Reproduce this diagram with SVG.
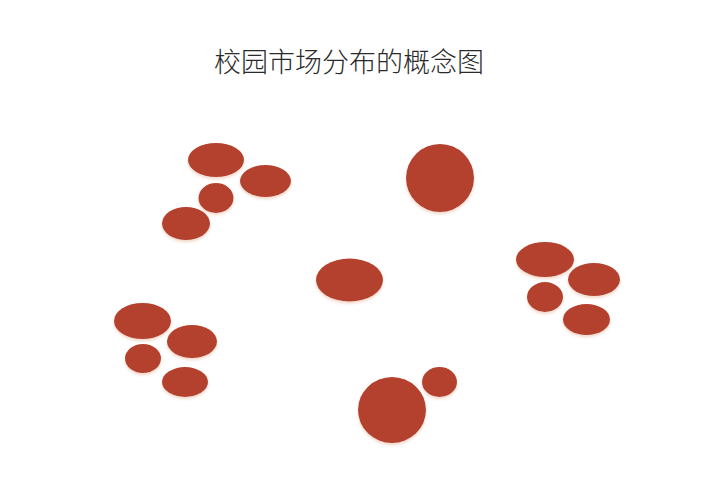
<svg xmlns="http://www.w3.org/2000/svg" width="720" height="494" viewBox="0 0 720 494">
<defs>
<filter id="sh" x="-20%" y="-20%" width="140%" height="150%">
<feGaussianBlur in="SourceAlpha" stdDeviation="1.5"/>
<feOffset dx="0" dy="1.5" result="b"/>
<feFlood flood-color="#e6b49a" flood-opacity="0.55"/>
<feComposite in2="b" operator="in"/>
<feMerge><feMergeNode/><feMergeNode in="SourceGraphic"/></feMerge>
</filter>
</defs>
<style>
.m{fill:#B4412E;filter:url(#sh)}
.t{font-family:"Noto Sans CJK SC","Noto Sans",sans-serif;font-size:27px;fill:#2a2a2a;font-weight:300}
</style>
<rect width="720" height="494" fill="#fff"/>
<text class="t" x="349" y="72" text-anchor="middle">校园市场分布的概念图</text>
<g id="cluster-top-left">
<ellipse class="m" cx="216" cy="160" rx="28" ry="17"/>
<ellipse class="m" cx="265.5" cy="181" rx="25.5" ry="16"/>
<ellipse class="m" cx="216" cy="198" rx="17.5" ry="15"/>
<ellipse class="m" cx="186" cy="223.5" rx="24" ry="16.5"/>
</g>
<g id="cluster-bottom-left">
<ellipse class="m" cx="142.5" cy="321" rx="28.5" ry="18"/>
<ellipse class="m" cx="192" cy="341.5" rx="25" ry="16.5"/>
<ellipse class="m" cx="143" cy="358.5" rx="18" ry="14.5"/>
<ellipse class="m" cx="185" cy="382" rx="23" ry="15"/>
</g>
<g id="cluster-right">
<ellipse class="m" cx="545" cy="259.5" rx="29" ry="17.5"/>
<ellipse class="m" cx="594" cy="279.5" rx="26" ry="16.5"/>
<ellipse class="m" cx="545" cy="297" rx="18" ry="15"/>
<ellipse class="m" cx="586.5" cy="319.5" rx="23.5" ry="15.5"/>
</g>
<g id="cluster-bottom">
<ellipse class="m" cx="392" cy="410" rx="34" ry="33"/>
<ellipse class="m" cx="439.5" cy="382" rx="17.5" ry="15"/>
</g>
<g id="circle-top">
<ellipse class="m" cx="440" cy="178" rx="34" ry="34"/>
</g>
<g id="ellipse-center">
<ellipse class="m" cx="349.5" cy="280" rx="33.5" ry="21.5"/>
</g>
<g id="connectors"/>
</svg>
